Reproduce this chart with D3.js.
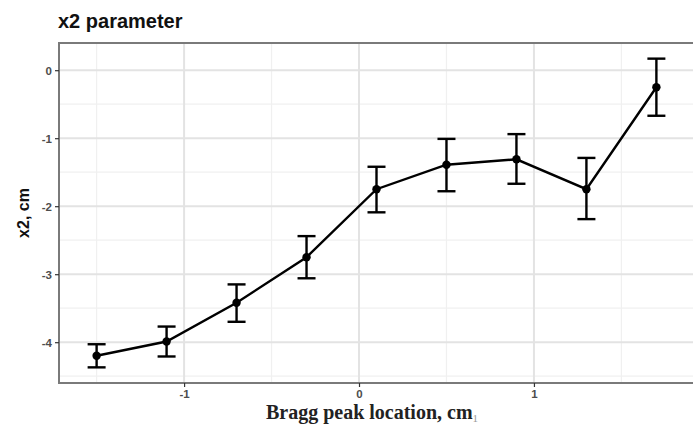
<!DOCTYPE html>
<html>
<head>
<meta charset="utf-8">
<script src="https://cdn.jsdelivr.net/npm/d3@7"></script>
<style>
  body { margin: 0; background: #fff; }
  svg { display: block; }
</style>
</head>
<body>
<script>
const location_cm = [-1.5, -1.1, -0.7, -0.3, 0.1, 0.5, 0.9, 1.3, 1.7]
const x2 = [-4.2, -3.99, -3.42, -2.75, -1.75, -1.39, -1.31, -1.75, -0.25]
const x2Low = [-4.37, -4.21, -3.7, -3.06, -2.09, -1.78, -1.67, -2.19, -0.67]
const x2High = [-4.03, -3.77, -3.15, -2.44, -1.42, -1.01, -0.94, -1.29, 0.17]
const xTicks = [-1, 0, 1]
const yTicks = [0, -1, -2, -3, -4]

const width = 693, height = 426
const m = { left: 59, right: -1, top: 43, bottom: 43 }

const svg = d3.select('body').append('svg')
  .attr('width', width).attr('height', height)

const x = d3.scaleLinear().domain([-1.715, 1.915]).range([m.left, width - m.right])
const y = d3.scaleLinear().domain([-4.6, 0.4]).range([height - m.bottom, m.top])

const data = location_cm.map((d, i) => ({ x: d, y: x2[i], lo: x2Low[i], hi: x2High[i] }))

// grid
const g = svg.append('g')
const minorX = [-1.5, -0.5, 0.5, 1.5], minorY = [-0.5, -1.5, -2.5, -3.5, -4.5]
g.selectAll('.mx').data(minorX).join('line')
  .attr('x1', d => x(d)).attr('x2', d => x(d)).attr('y1', m.top).attr('y2', height - m.bottom)
  .attr('stroke', '#f0f0f0').attr('stroke-width', 1.2)
g.selectAll('.my').data(minorY).join('line')
  .attr('y1', d => y(d)).attr('y2', d => y(d)).attr('x1', m.left).attr('x2', width)
  .attr('stroke', '#f0f0f0').attr('stroke-width', 1.2)
g.selectAll('.gx').data(xTicks).join('line')
  .attr('x1', d => x(d)).attr('x2', d => x(d)).attr('y1', m.top).attr('y2', height - m.bottom)
  .attr('stroke', '#e3e3e3').attr('stroke-width', 2)
g.selectAll('.gy').data(yTicks).join('line')
  .attr('y1', d => y(d)).attr('y2', d => y(d)).attr('x1', m.left).attr('x2', width)
  .attr('stroke', '#e3e3e3').attr('stroke-width', 2)

// panel border
svg.append('rect')
  .attr('x', m.left).attr('y', m.top)
  .attr('width', width - m.left + 5).attr('height', height - m.bottom - m.top)
  .attr('fill', 'none').attr('stroke', '#7a7a7a').attr('stroke-width', 2)

// axes (ggplot uses a plain hyphen for negatives)
const fmt = d => String(d)
const xAxis = svg.append('g').attr('transform', `translate(0,${height - m.bottom})`)
  .call(d3.axisBottom(x).tickValues(xTicks).tickSize(4).tickPadding(3).tickFormat(fmt))
const yAxis = svg.append('g').attr('transform', `translate(${m.left},0)`)
  .call(d3.axisLeft(y).tickValues(yTicks).tickSize(4).tickPadding(3).tickFormat(fmt))
;[xAxis, yAxis].forEach(a => {
  a.select('.domain').remove()
  a.selectAll('.tick line').attr('stroke', '#333').attr('stroke-width', 1.2)
  a.selectAll('.tick text').attr('fill', '#4d4d4d')
    .style('font-family', 'Liberation Sans, Arial, sans-serif').style('font-size', '11.5px')
    .style('font-weight', 'bold')
})
yAxis.selectAll('.tick text').attr('dy', '0.35em')

// error bars
const cap = 9
const eb = svg.append('g').attr('stroke', '#000').attr('stroke-width', 2.4).attr('fill', 'none')
eb.selectAll('.v').data(data).join('line')
  .attr('x1', d => x(d.x)).attr('x2', d => x(d.x)).attr('y1', d => y(d.lo)).attr('y2', d => y(d.hi))
eb.selectAll('.lo').data(data).join('line')
  .attr('x1', d => x(d.x) - cap).attr('x2', d => x(d.x) + cap).attr('y1', d => y(d.lo)).attr('y2', d => y(d.lo))
eb.selectAll('.hi').data(data).join('line')
  .attr('x1', d => x(d.x) - cap).attr('x2', d => x(d.x) + cap).attr('y1', d => y(d.hi)).attr('y2', d => y(d.hi))

// line + points
svg.append('path').datum(data)
  .attr('d', d3.line().x(d => x(d.x)).y(d => y(d.y)))
  .attr('fill', 'none').attr('stroke', '#000').attr('stroke-width', 2.4)
svg.selectAll('.pt').data(data).join('circle')
  .attr('cx', d => x(d.x)).attr('cy', d => y(d.y)).attr('r', 4.2).attr('fill', '#000')

// labels
svg.append('text').attr('x', 58).attr('y', 28)
  .style('font-family', 'Liberation Sans, Arial, sans-serif').style('font-size', '20px').style('font-weight', 'bold')
  .attr('fill', '#111')
  .text('x2 parameter')
svg.append('text').attr('transform', `translate(29,${(m.top + height - m.bottom) / 2}) rotate(-90)`)
  .attr('text-anchor', 'middle')
  .style('font-family', 'Liberation Sans, Arial, sans-serif').style('font-size', '16px').style('font-weight', 'bold')
  .attr('fill', '#111')
  .text('x2, cm')
const xl = svg.append('text').attr('x', 372).attr('y', 419).attr('text-anchor', 'middle')
  .style('font-family', 'Liberation Serif, Times New Roman, serif').style('font-size', '20px')
  .style('font-weight', 'bold').attr('fill', '#222')
xl.append('tspan').text('Bragg peak location, cm')
xl.append('tspan').attr('dy', 3).attr('fill', '#999').style('font-size', '11px').style('font-weight', 'normal').text('1')
</script>
</body>
</html>
